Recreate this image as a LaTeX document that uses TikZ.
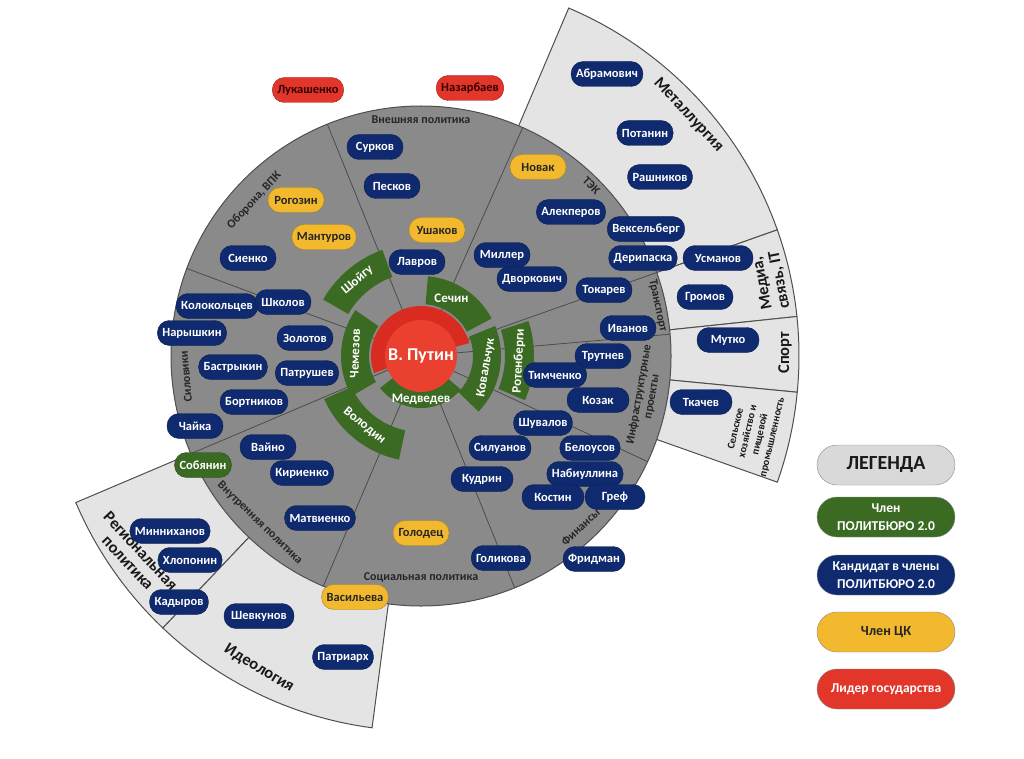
\documentclass[tikz,border=0pt]{standalone}
\usepackage{fontspec}
\setmainfont{Carlito}
\usetikzlibrary{calc}

\definecolor{candblue}{HTML}{0F2A6E}
\definecolor{ckyellow}{HTML}{F2B82E}
\definecolor{pbgreen}{HTML}{3B6B22}
\definecolor{leadred}{HTML}{E2362B}
\definecolor{discgrey}{HTML}{8A8A8A}
\definecolor{outergrey}{HTML}{E4E4E4}
\definecolor{legendgrey}{HTML}{D9D9D9}
\definecolor{edgegrey}{HTML}{4F4F4F}
\definecolor{ringred}{HTML}{D92B1F}
\definecolor{corered}{HTML}{E9402F}

\tikzset{%
  pill/.style={
    draw=#1!70!black,
    fill=#1,
    rounded corners=12pt,
    minimum height=25pt,
    minimum width=56pt,
    inner xsep=5pt,
    font=\fontsize{12.5}{13}\selectfont\bfseries
  },
  cand/.style={pill=candblue, text=white},
  ck/.style={pill=ckyellow, text=black!85},
  pb/.style={pill=pbgreen, text=white},
  leader/.style={pill=leadred, text=black!80!red},
  sector/.style={font=\fontsize{12}{13}\selectfont\bfseries, text=black!85, align=center},
  area/.style={font=\fontsize{16.5}{17.5}\selectfont\bfseries, text=black!90, align=center},
  ring/.style={font=\fontsize{13}{14}\selectfont\bfseries, text=white},
  spoke/.style={draw=black!70, line width=0.8pt},
  legendbox/.style={pill=#1, minimum width=138pt, minimum height=40pt,
    rounded corners=20pt, draw=black!45, align=center,
    font=\fontsize{13.5}{18}\selectfont\bfseries}
}

% ring sector: style, start, end, inner radius, outer radius
\newcommand{\annsec}[5]{%
  \path[#1] ($(C)+(#2:#4)$) arc[start angle=#2, end angle=#3, radius=#4]
    -- ($(C)+(#3:#5)$) arc[start angle=#3, end angle=#2, radius=#5] -- cycle;}

\begin{document}
\begin{tikzpicture}[x=1pt,y=1pt]
  \useasboundingbox (0,0) rectangle (1024,-759);
  \coordinate (C) at (421,-356);
  \tikzstyle{outer}=[fill=outergrey,draw=edgegrey,line width=1pt]

  % outer sectors
  \annsec{outer}{19.5}{67}{200}{378}
  \annsec{outer}{6}{19.5}{200}{378}
  \annsec{outer}{-5.5}{6}{200}{378}
  \annsec{outer}{-19.5}{-5.5}{200}{378}
  \annsec{outer}{203}{226.5}{200}{375}
  \annsec{outer}{226.5}{262.5}{200}{375}

  % main disc
  \draw[fill=discgrey, draw=edgegrey, line width=1pt] (C) circle[radius=250];
  \foreach \a in {112,66,19.5,5,-25,-68,247,203,159.5}
    \draw[spoke] ($(C)+(\a:36)$) -- ($(C)+(\a:250)$);

  % inner rings
  \annsec{fill=ringred}{15}{200}{34}{50}
  \annsec{fill=pbgreen}{218}{320}{34}{52}
  \annsec{fill=pbgreen}{28}{85}{52}{80}
  \annsec{fill=pbgreen}{-44}{22}{52}{80}
  \annsec{fill=pbgreen}{145}{210}{52}{80}
  \annsec{fill=pbgreen}{110}{150}{84}{113}
  \annsec{fill=pbgreen}{-23}{18}{84}{113}
  \annsec{fill=pbgreen}{204}{258}{76}{106}

  \node[circle, fill=corered, minimum size=72pt, inner sep=0pt, text=white,
    font=\fontsize{18}{19}\selectfont\bfseries] (putin) at (C) {В. Путин};

  \node[ring, rotate=40] (shoigu) at ($(C)+(130:99)$) {Шойгу};
  \node[ring, rotate=88] (chemezov) at ($(C)+(178:66)$) {Чемезов};
  \node[ring, rotate=-39] (volodin) at ($(C)+(231:90)$) {Володин};
  \node[ring] (sechin) at ($(C)+(62:65)$) {Сечин};
  \node[ring, rotate=80] (kovalchuk) at ($(C)+(-10:66)$) {Ковальчук};
  \node[ring, rotate=87] (rotenberg) at ($(C)+(-3:98)$) {Ротенберги};
  \node[ring] (medvedev) at ($(C)+(270:43)$) {Медведев};

  % sector names
  \node[sector] (foreign) at ($(C)+(90:236)$) {Внешняя политика};
  \node[sector, rotate=-45] (fuel) at ($(C)+(45:241)$) {ТЭК};
  \node[sector, rotate=47] (defence) at ($(C)+(137:228)$) {Оборона, ВПК};
  \node[sector, rotate=95] (siloviki) at ($(C)+(185:236)$) {Силовики};
  \node[sector, rotate=-44] (domestic) at ($(C)+(226:232)$) {Внутренняя политика};
  \node[sector] (social) at ($(C)+(270:222)$) {Социальная политика};
  \node[sector, rotate=43] (finance) at ($(C)+(-47:234)$) {Финансы};
  \node[sector, rotate=80] (infra) at ($(C)+(-10:228)$) {Инфраструктурные\\проекты};
  \node[sector, rotate=-78] (transport) at ($(C)+(12:242)$) {Транспорт};

  \node[area, rotate=-47] (metal) at ($(C)+(42:360)$) {Металлургия};
  \node[area, rotate=101] (media) at ($(C)+(12:358)$) {Медиа,\\связь, IT};
  \node[area, rotate=90] (sport) at ($(C)+(0.5:364)$) {Спорт};
  \node[area, rotate=77, font=\fontsize{10.5}{12.5}\selectfont\bfseries] (agri)
    at ($(C)+(-13:342)$) {Сельское\\хозяйство и\\пищевой\\промышленность};
  \node[area, rotate=-47] (regional) at ($(C)+(215:350)$) {Региональная\\политика};
  \node[area, rotate=-31] (ideology) at ($(C)+(242.6:352)$) {Идеология};

  % people
  \node[leader] (lukashenko) at (308,-90) {Лукашенко};
  \node[leader] (nazarbaev) at (470,-88) {Назарбаев};

  \node[cand] (surkov) at (375,-147) {Сурков};
  \node[cand] (peskov) at (392,-186) {Песков};
  \node[ck] (ushakov) at (437,-230) {Ушаков};
  \node[cand] (lavrov) at (417,-262) {Лавров};

  \node[ck] (novak) at (538,-167) {Новак};
  \node[cand] (alekperov) at (571,-212) {Алекперов};
  \node[cand] (miller) at (502,-255) {Миллер};
  \node[cand] (dvorkovich) at (532,-279) {Дворкович};
  \node[cand] (vekselberg) at (646,-229) {Вексельберг};
  \node[cand] (deripaska) at (643,-258) {Дерипаска};
  \node[cand] (tokarev) at (604,-290) {Токарев};

  \node[cand] (abramovich) at (607,-74) {Абрамович};
  \node[cand] (potanin) at (645,-133) {Потанин};
  \node[cand] (rashnikov) at (660,-177) {Рашников};

  \node[cand, minimum width=70pt] (usmanov) at (718,-258) {Усманов};
  \node[cand] (gromov) at (705,-297) {Громов};
  \node[cand, minimum width=62pt] (mutko) at (728,-340) {Мутко};
  \node[cand, minimum width=62pt] (tkachev) at (701,-402) {Ткачев};

  \node[cand] (ivanov) at (628,-328) {Иванов};
  \node[cand] (trutnev) at (603,-356) {Трутнев};
  \node[cand] (timchenko) at (555,-375) {Тимченко};
  \node[cand, minimum width=62pt] (kozak) at (598,-400) {Козак};

  \node[cand] (shuvalov) at (543,-423) {Шувалов};
  \node[cand] (siluanov) at (500,-448) {Силуанов};
  \node[cand] (belousov) at (590,-448) {Белоусов};
  \node[cand] (nabiullina) at (585,-474) {Набиуллина};
  \node[cand, minimum width=62pt] (kudrin) at (482,-479) {Кудрин};
  \node[cand, minimum width=62pt] (kostin) at (553,-497) {Костин};
  \node[cand, minimum width=60pt] (gref) at (615,-497) {Греф};
  \node[cand] (fridman) at (594,-559) {Фридман};

  \node[ck] (golodets) at (421,-533) {Голодец};
  \node[cand] (golikova) at (501,-558) {Голикова};
  \node[ck] (vasilyeva) at (355,-597) {Васильева};

  \node[cand] (vaino) at (268,-447) {Вайно};
  \node[cand] (kirienko) at (302,-473) {Кириенко};
  \node[cand] (matvienko) at (320,-518) {Матвиенко};
  \node[pb] (sobyanin) at (203,-465) {Собянин};

  \node[cand] (minnikhanov) at (170,-531) {Минниханов};
  \node[cand] (khloponin) at (190,-560) {Хлопонин};
  \node[cand] (kadyrov) at (179,-602) {Кадыров};
  \node[cand, minimum width=70pt] (shevkunov) at (259,-616) {Шевкунов};
  \node[cand] (patriarch) at (343,-657) {Патриарх};

  \node[cand] (kolokoltsev) at (217,-306) {Колокольцев};
  \node[cand] (naryshkin) at (192,-333) {Нарышкин};
  \node[cand] (bastrykin) at (233,-367) {Бастрыкин};
  \node[cand] (bortnikov) at (254,-402) {Бортников};
  \node[cand] (chaika) at (195,-426) {Чайка};
  \node[cand] (shkolov) at (283,-302) {Школов};
  \node[cand] (zolotov) at (305,-338) {Золотов};
  \node[cand] (patrushev) at (307,-373) {Патрушев};

  \node[ck] (rogozin) at (296,-200) {Рогозин};
  \node[ck] (manturov) at (324,-237) {Мантуров};
  \node[cand] (sienko) at (248,-258) {Сиенко};

  % legend
  \node[legendbox=legendgrey, text=black!90, font=\fontsize{20}{21}\selectfont\bfseries]
    (legend) at (886,-465) {ЛЕГЕНДА};
  \node[legendbox=pbgreen, text=white] (legpb) at (886,-517) {Член\\ПОЛИТБЮРО 2.0};
  \node[legendbox=candblue, text=white] (legcand) at (886,-575) {Кандидат в члены\\ПОЛИТБЮРО 2.0};
  \node[legendbox=ckyellow, text=black!85, font=\fontsize{14}{15}\selectfont\bfseries]
    (legck) at (886,-632) {Член ЦК};
  \node[legendbox=leadred, text=white] (legleader) at (886,-689) {Лидер государства};
\end{tikzpicture}
\end{document}
